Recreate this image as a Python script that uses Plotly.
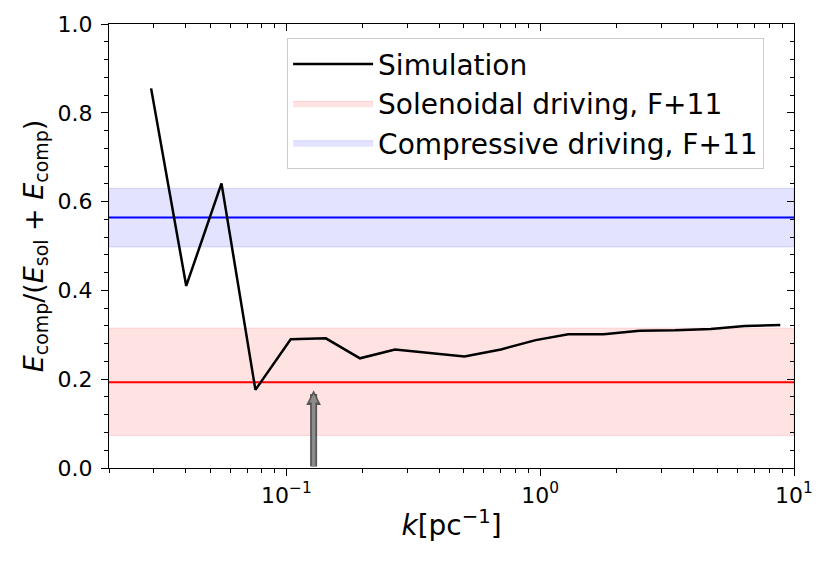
import math
import plotly.graph_objects as go

# ---- data ----
k = [0.0293, 0.0403, 0.0555, 0.0755, 0.104, 0.143, 0.195, 0.268, 0.503,
     0.70, 0.96, 1.29, 1.78, 2.46, 3.40, 4.70, 6.39, 8.83]
ratio = [0.855, 0.410, 0.641, 0.176, 0.290, 0.292, 0.247, 0.267, 0.251,
         0.267, 0.288, 0.301, 0.301, 0.309, 0.310, 0.313, 0.320, 0.322]
x_span = [0.02, 10]
sol_mean, sol_lo, sol_hi = 0.193, 0.073, 0.315
comp_mean, comp_lo, comp_hi = 0.564, 0.498, 0.630
arrow_k = 0.128
arrow_tip = 0.175

x_major = [0.1, 1, 10]
x_major_text = ["10<sup>−1</sup>", "10<sup>0</sup>", "10<sup>1</sup>"]
x_minor = [m * d for d in (0.01, 0.1, 1) for m in range(2, 10) if m * d >= 0.02]
y_major = [0, 0.2, 0.4, 0.6, 0.8, 1.0]
y_minor = [i * 0.04 for i in range(26)]

FONT = "DejaVu Sans"
xr = [math.log10(x_span[0]), math.log10(x_span[1])]

fig = go.Figure()

def band(lo, hi, fill, edge, name, rank):
    fig.add_trace(go.Scatter(
        x=[x_span[0], x_span[1], x_span[1], x_span[0], x_span[0]],
        y=[lo, lo, hi, hi, lo], fill="toself", fillcolor=fill,
        line=dict(color=edge, width=1), mode="lines", name=name,
        legendrank=rank, hoverinfo="skip"))

band(sol_lo, sol_hi, "rgba(255,0,0,0.11)", "rgba(255,0,0,0.13)",
     "Solenoidal driving, F+11", 2)
band(comp_lo, comp_hi, "rgba(0,0,255,0.11)", "rgba(0,0,255,0.13)",
     "Compressive driving, F+11", 3)
fig.add_trace(go.Scatter(x=x_span, y=[sol_mean, sol_mean], mode="lines",
                         line=dict(color="red", width=2), showlegend=False))
fig.add_trace(go.Scatter(x=x_span, y=[comp_mean, comp_mean], mode="lines",
                         line=dict(color="blue", width=2), showlegend=False))
fig.add_trace(go.Scatter(x=k, y=ratio, mode="lines", name="Simulation",
                         line=dict(color="black", width=2.5), legendrank=1))

# empty traces to activate overlay axes
for xa, ya in (("x2", "y2"), ("x3", "y3"), ("x4", "y4")):
    fig.add_trace(go.Scatter(x=[], y=[], xaxis=xa, yaxis=ya, showlegend=False))

ax_log = math.log10(arrow_k)
fig.add_annotation(x=ax_log, y=arrow_tip, ax=ax_log, ay=0,
                   xref="x", yref="y", axref="x", ayref="y", text="",
                   showarrow=True, arrowhead=2, arrowsize=0.42, arrowwidth=7,
                   arrowcolor="rgba(60,60,60,0.85)")
fig.add_annotation(x=ax_log, y=arrow_tip - 0.008, ax=ax_log, ay=0,
                   xref="x", yref="y", axref="x", ayref="y", text="",
                   showarrow=True, arrowhead=2, arrowsize=0.5, arrowwidth=3.5,
                   arrowcolor="rgba(140,140,140,1)")

tickfont = dict(family=FONT, size=22, color="black")
common = dict(showgrid=False, zeroline=False, tickcolor="black", tickwidth=1.2,
              automargin=False)

# the page body adds an 8px offset; margins compensate
fig.update_layout(
    width=831, height=563,
    margin=dict(l=101, r=45, t=16, b=103),
    plot_bgcolor="white", paper_bgcolor="white",
    font=dict(family=FONT, color="black"),
    xaxis=dict(type="log", range=xr, tickmode="array", tickvals=x_major,
               ticktext=x_major_text, ticks="outside", ticklen=7,
               showline=True, linecolor="black", linewidth=1.2,
               tickfont=tickfont,
               title=dict(text="<i>k</i>[pc<sup>−1</sup>]",
                          font=dict(family=FONT, size=28), standoff=8),
               **common),
    xaxis2=dict(type="log", range=xr, overlaying="x", anchor="y", side="bottom",
                tickmode="array", tickvals=x_minor, ticks="outside", ticklen=4,
                showticklabels=False, showline=False, **common),
    xaxis3=dict(type="log", range=xr, overlaying="x", anchor="y", side="top",
                tickmode="array", tickvals=x_major, ticks="inside", ticklen=7,
                showticklabels=False, showline=True, linecolor="black",
                linewidth=1.2, **common),
    xaxis4=dict(type="log", range=xr, overlaying="x", anchor="y", side="top",
                tickmode="array", tickvals=x_minor, ticks="inside", ticklen=4,
                showticklabels=False, showline=False, **common),
    yaxis=dict(range=[0, 1], tickmode="array", tickvals=y_major,
               tickformat=".1f", ticks="outside", ticklen=7,
               showline=True, linecolor="black", linewidth=1.2,
               tickfont=tickfont, ticklabelstandoff=4,
               title=dict(text="<i>E</i><sub>comp</sub>/(<i>E</i><sub>sol</sub> + <i>E</i><sub>comp</sub>)",
                          font=dict(family=FONT, size=27), standoff=6),
               **common),
    yaxis2=dict(range=[0, 1], overlaying="y", anchor="x", side="left",
                tickmode="array", tickvals=y_minor, ticks="outside", ticklen=4,
                showticklabels=False, showline=False, **common),
    yaxis3=dict(range=[0, 1], overlaying="y", anchor="x", side="right",
                tickmode="array", tickvals=y_major, ticks="inside", ticklen=7,
                showticklabels=False, showline=True, linecolor="black",
                linewidth=1.2, **common),
    yaxis4=dict(range=[0, 1], overlaying="y", anchor="x", side="right",
                tickmode="array", tickvals=y_minor, ticks="inside", ticklen=4,
                showticklabels=False, showline=False, **common),
    legend=dict(x=0.26, y=0.968, xanchor="left", yanchor="top",
                bgcolor="rgba(255,255,255,0.85)", bordercolor="#cccccc",
                borderwidth=1, font=dict(family=FONT, size=28),
                itemwidth=80),
    showlegend=True,
)

fig.write_html("out.html")
